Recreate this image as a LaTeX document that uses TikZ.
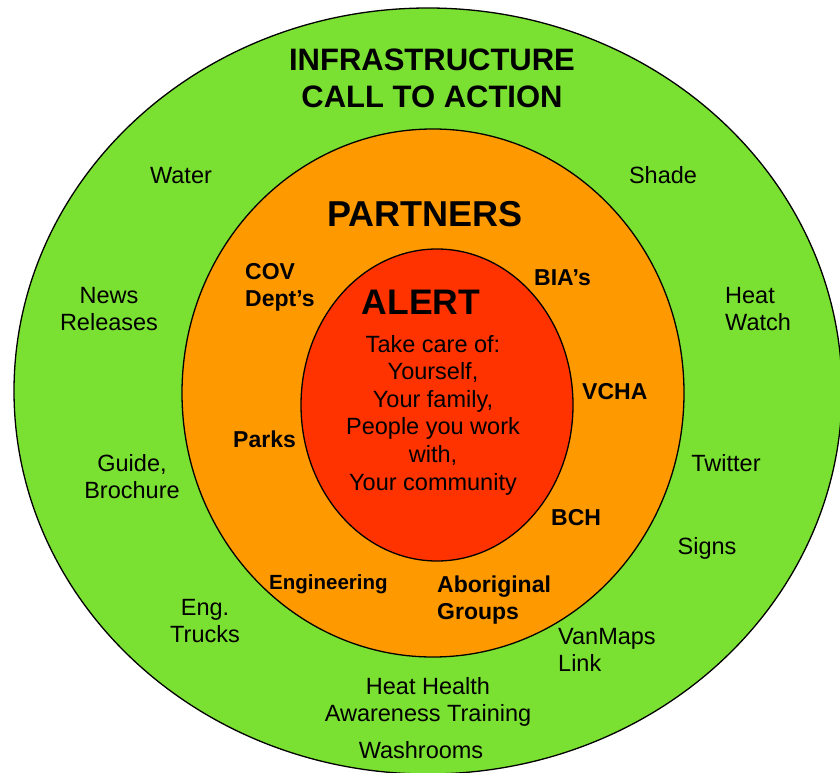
\documentclass[tikz,border=0pt]{standalone}
\usepackage{fontspec}
\setmainfont{Liberation Sans}
\definecolor{cgreen}{RGB}{122,224,50}
\definecolor{corange}{RGB}{255,153,0}
\definecolor{cred}{RGB}{255,51,0}
\tikzset{
  lab/.style={inner sep=0pt, font=\fontsize{23.5}{27}\selectfont, align=center},
  blab/.style={inner sep=0pt, font=\fontsize{23}{27}\selectfont\bfseries, align=left},
  ring/.style={draw=black, line width=1.3pt},
}
\begin{document}
\begin{tikzpicture}[x=1pt,y=-1pt]
\useasboundingbox (0,0) rectangle (840,773);
\clip (0,0) rectangle (840,773);
\fill[white] (0,0) rectangle (840,773);
\draw[ring, fill=cgreen] (428,391) ellipse [x radius=414, y radius=383];
\draw[ring, fill=corange] (433,393) ellipse [x radius=251, y radius=264];
\draw[ring, fill=cred] (437,405) ellipse [x radius=136, y radius=156];

\node[lab, font=\fontsize{31}{37}\selectfont\bfseries, anchor=base] (infra) at (432,108) {INFRASTRUCTURE\\CALL TO ACTION};
\node[lab, anchor=base] (water) at (181,183) {Water};
\node[lab, anchor=base] (shade) at (663,183) {Shade};
\node[lab, anchor=base] (news) at (109,330) {News\\Releases};
\node[lab, align=left, anchor=base west] (heatwatch) at (725,330) {Heat\\Watch};
\node[lab, anchor=base] (guide) at (132,498) {Guide,\\Brochure};
\node[lab, anchor=base] (twitter) at (726,471) {Twitter};
\node[lab, anchor=base] (signs) at (707,554) {Signs};
\node[lab, anchor=base] (trucks) at (205,642) {Eng.\\Trucks};
\node[lab, align=left, anchor=base west] (vanmaps) at (558,671) {VanMaps\\Link};
\node[lab, anchor=base] (hh) at (428,721) {Heat Health\\Awareness Training};
\node[lab, anchor=base] (wash) at (421,758) {Washrooms};

\node[lab, font=\fontsize{36}{40}\selectfont\bfseries, anchor=base] (partners) at (425,226) {PARTNERS};
\node[blab, anchor=base west] (cov) at (245,306) {COV\\Dept’s};
\node[blab, anchor=base west] (bia) at (534,285) {BIA’s};
\node[blab, anchor=base west] (vcha) at (582,399) {VCHA};
\node[blab, anchor=base west] (parks) at (233,447) {Parks};
\node[blab, anchor=base west] (bch) at (551,525) {BCH};
\node[blab, font=\fontsize{20.5}{25}\selectfont\bfseries, anchor=base west] (eng) at (269,589) {Engineering};
\node[blab, anchor=base west] (abor) at (437,619) {Aboriginal\\Groups};

\node[lab, font=\fontsize{35.5}{40}\selectfont\bfseries, anchor=base] (alert) at (421,314) {ALERT};
\node[lab, font=\fontsize{23.5}{27.6}\selectfont, anchor=base] (care) at (433,490) {Take care of:\\Yourself,\\Your family,\\People you work\\with,\\Your community};
\end{tikzpicture}
\end{document}
